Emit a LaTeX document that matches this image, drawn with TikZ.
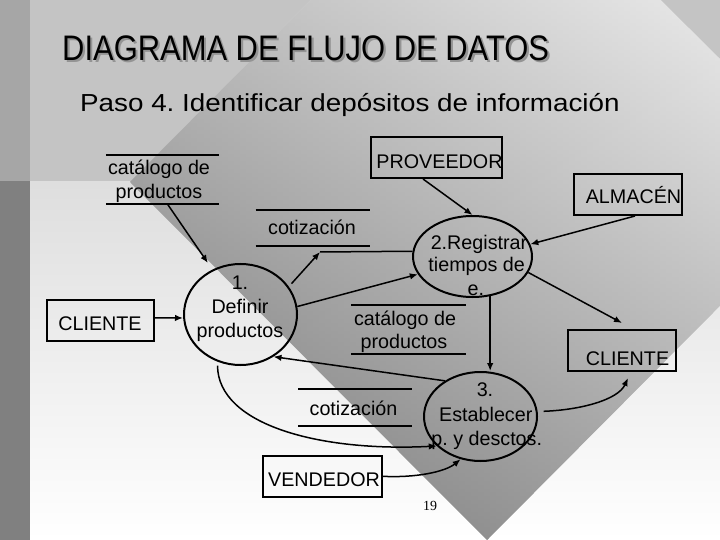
\documentclass[tikz,border=0pt]{standalone}
\usepackage{fontspec}
\setmainfont{Liberation Sans}
\newfontfamily\pagefont{Liberation Serif}
\usepackage{graphicx}
\usetikzlibrary{arrows.meta,shapes.geometric,calc}
\definecolor{bandgray}{gray}{0.77}
\definecolor{stripA}{gray}{0.65}
\definecolor{stripB}{gray}{0.50}
\definecolor{baseTop}{gray}{0.87}
\definecolor{dT}{gray}{0.95}
\definecolor{dV}{gray}{0.40}
\definecolor{hL}{gray}{0.50}
\definecolor{hR}{gray}{0.88}
\definecolor{shadowgray}{gray}{0.58}
\newcommand{\titletext}{DIAGRAMA DE FLUJO DE DATOS}
\begin{document}
\frenchspacing
\begin{tikzpicture}[x=1bp,y=-1bp,
  txt/.style={font=\fontsize{19.8}{24}\selectfont, inner sep=0pt, anchor=base},
  box/.style={draw=black, line width=2bp, inner sep=0pt},
  proc/.style={ellipse, draw=black, line width=2bp, inner sep=0pt},
  store/.style={inner sep=0pt},
  storeline/.style={line width=2bp},
  flowline/.style={line width=1.5bp},
  flow/.style={line width=1.5bp, -{Latex[length=8bp,width=6.5bp]}},
]
\useasboundingbox (0,0) rectangle (720,540);
% ---------- background ----------
\shade[top color=baseTop, bottom color=white] (30,181) rectangle (720,540);
\fill[bandgray] (30,0) rectangle (720,181);
\fill[stripA] (0,0) rectangle (30,181);
\fill[stripB] (0,181) rectangle (30,540);
\shade[top color=dT, bottom color=dV]
  (310.5,0) -- (660.5,0) -- (720,59) -- (720,305.7) -- (487,540) -- (130,182) -- cycle;
\shade[left color=hL, right color=hR, opacity=0.5]
  (310.5,0) -- (660.5,0) -- (720,59) -- (720,305.7) -- (487,540) -- (130,182) -- cycle;
% ---------- titles ----------
\node[anchor=base west, inner sep=0pt, font=\fontsize{35.6}{40}\selectfont]
  (title) at (62,60.8) {\scalebox{0.872}[1]{\rlap{\hspace{2.5bp}\raisebox{-2.2bp}{\textcolor{shadowgray}{\titletext}}}\titletext}};
\node[anchor=base west, inner sep=0pt, font=\fontsize{24.7}{28}\selectfont]
  (subtitle) at (80,111.7) {\scalebox{1.13}[1]{Paso 4. Identificar depósitos de información}};
% ---------- external entities ----------
\node[box, minimum width=131bp, minimum height=41bp] (prov) at (436.5,157.5) {};
\node[txt] (provt) at (439.5,169) {PROVEEDOR};
\node[box, minimum width=108bp, minimum height=41bp] (alm) at (628,194.5) {};
\node[txt] (almt) at (633.5,204) {ALMACÉN};
\node[box, minimum width=108bp, minimum height=41bp] (cli2) at (622,350.5) {};
\node[txt] (cli2t) at (627.5,365) {CLIENTE};
\node[box, minimum width=107.3bp, minimum height=40.7bp] (cli1) at (100.3,320.3) {};
\node[txt] (cli1t) at (100,330.7) {CLIENTE};
\node[box, minimum width=119bp, minimum height=40.7bp] (vend) at (322.2,476.3) {};
\node[txt] (vendt) at (324,486.7) {VENDEDOR};
% ---------- data stores ----------
\node[store, minimum width=113.3bp, minimum height=48.3bp] (cat1) at (162.6,179.2) {};
\node[store, minimum width=113.6bp, minimum height=36bp] (cot1) at (312.5,228) {};
\node[store, minimum width=114.3bp, minimum height=49bp] (cat2) at (408.8,329.5) {};
\node[store, minimum width=113.4bp, minimum height=36.6bp] (cot2) at (355,407.5) {};
\foreach \s in {cat1,cot1,cat2,cot2}{
  \draw[storeline] (\s.north west) -- (\s.north east);
  \draw[storeline] (\s.south west) -- (\s.south east);
}
\node[txt] (cat1a) at (159,175) {catálogo de};
\node[txt] (cat1b) at (159,198.3) {productos};
\node[txt] (cot1t) at (312,235) {cotización};
\node[txt] (cat2a) at (405,325) {catálogo de};
\node[txt] (cat2b) at (404,348.3) {productos};
\node[txt] (cot2t) at (353.5,415) {cotización};
% ---------- processes ----------
\node[proc, minimum width=113bp, minimum height=101bp] (e1) at (240.5,314.5) {};
\node[proc, minimum width=119bp, minimum height=81bp] (e2) at (472.5,256.5) {};
\node[proc, minimum width=113bp, minimum height=89bp] (e3) at (480.5,416.5) {};
\node[txt] (e1a) at (240,289) {1.};
\node[txt] (e1b) at (240,313.3) {Definir};
\node[txt] (e1c) at (240,337.3) {productos};
\node[txt] (e2a) at (479,250) {2.Registrar};
\node[txt] (e2b) at (476.7,271.7) {tiempos de};
\node[txt] (e2c) at (475.8,295) {e.};
\node[txt] (e3a) at (485,396.7) {3.};
\node[txt] (e3b) at (485.8,421.7) {Establecer};
\node[txt] (e3c) at (486.7,445) {p. y desctos.};
% ---------- page number ----------
\node[anchor=base, inner sep=0pt, font=\pagefont\fontsize{14}{16}\selectfont] (pagenum) at (430,510) {19};
% ---------- flows ----------
\coordinate (junc) at (320,252);
\draw[flow, shorten >=8bp] ([xshift=4.5bp]cat1.south) -- (e1.122);
\draw[flow] ([yshift=2.5bp]cli1.east) -- ([yshift=-3.5bp]e1.west);
\draw[flow, shorten <=4bp] (e1.30) -- (junc);
\draw[flowline] (e2.175) -- (junc);
\draw[flow] (e1.8) -- (e2.198);
\draw[flow] ([xshift=-13.5bp]prov.south) -- (e2.north);
\draw[flow] ([xshift=7bp]alm.south) -- (e2.12);
\draw[flow] (e2.-16) -- ([yshift=6bp]cli2.north);
\draw[flow] (e2.-66) -- (e2.-66 |- e3.north);
\draw[flow] (e3.135) -- (e1.-52);
\draw[flow, shorten <=4bp] (e1.-116) .. controls (218,425) and (320,452) .. (e3.-146);
\draw[flow] (vend.east) .. controls (415,478) and (445,472) .. (e3.-115);
\draw[flow, shorten <=6bp] (e3.5) .. controls (580,410) and (618,400) .. ([xshift=6bp,yshift=-6bp]cli2.south);
\end{tikzpicture}
\end{document}
